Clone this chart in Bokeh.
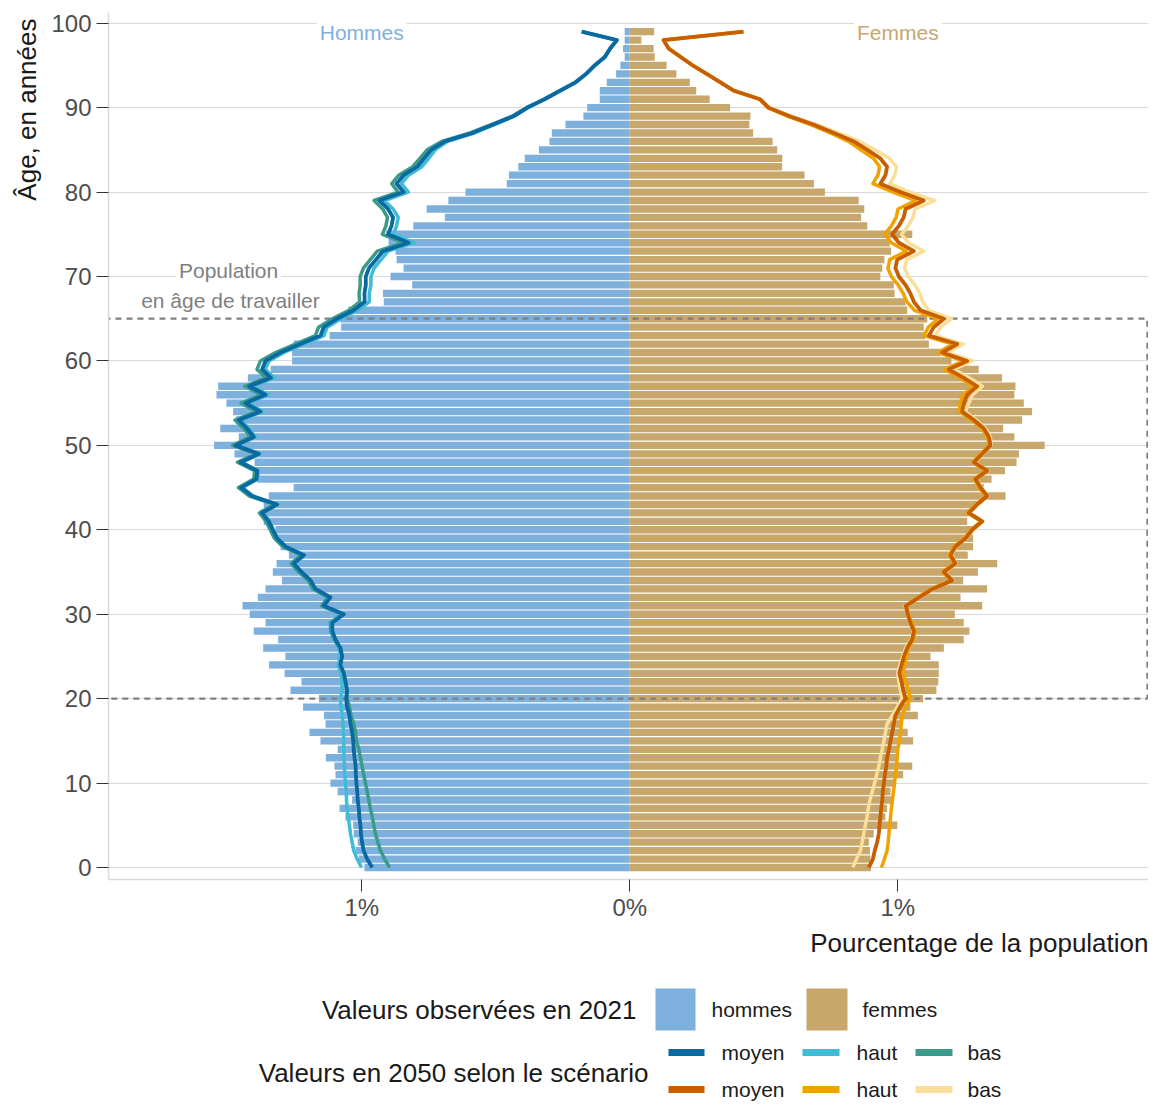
from bokeh.plotting import figure
from bokeh.models import (ColumnDataSource, Range1d, FixedTicker, Label, Title,
                          CustomJSTickFormatter)
from bokeh.layouts import column
from bokeh.embed import file_html
from bokeh.resources import INLINE
from bokeh.core.properties import value

FONT = "Liberation Sans"

ages = list(range(100))

hommes_2021 = [
    0.990, 1.011, 1.023, 1.015, 1.030, 1.032, 1.061, 1.083, 1.036, 1.090,
    1.117, 1.098, 1.102, 1.134, 1.090, 1.154, 1.195, 1.135, 1.141, 1.219,
    1.160, 1.266, 1.225, 1.288, 1.346, 1.285, 1.368, 1.312, 1.403, 1.359,
    1.418, 1.445, 1.388, 1.359, 1.298, 1.332, 1.318, 1.272, 1.303, 1.322,
    1.322, 1.366, 1.378, 1.366, 1.347, 1.254, 1.390, 1.400, 1.400, 1.475,
    1.551, 1.459, 1.528, 1.470, 1.480, 1.505, 1.542, 1.536, 1.425, 1.340,
    1.260, 1.260, 1.254, 1.120, 1.077, 1.080, 1.050, 0.918, 0.921, 0.812,
    0.893, 0.844, 0.870, 0.874, 0.900, 0.909, 0.808, 0.690, 0.758, 0.677,
    0.613, 0.459, 0.451, 0.416, 0.392, 0.339, 0.300, 0.291, 0.240, 0.173,
    0.159, 0.112, 0.112, 0.086, 0.051, 0.035, 0.019, 0.025, 0.019, 0.019,
]

femmes_2021 = [
    0.900, 0.898, 0.896, 0.892, 0.910, 0.998, 0.954, 0.960, 0.979, 0.973,
    0.991, 1.020, 1.054, 0.998, 0.998, 1.057, 1.037, 1.010, 1.075, 1.047,
    1.094, 1.144, 1.151, 1.153, 1.153, 1.122, 1.172, 1.246, 1.267, 1.246,
    1.213, 1.315, 1.234, 1.333, 1.244, 1.299, 1.371, 1.261, 1.281, 1.281,
    1.281, 1.259, 1.265, 1.296, 1.402, 1.321, 1.350, 1.400, 1.443, 1.452,
    1.548, 1.435, 1.393, 1.464, 1.501, 1.470, 1.435, 1.439, 1.389, 1.302,
    1.200, 1.160, 1.116, 1.103, 1.097, 1.110, 1.035, 1.029, 0.988, 0.985,
    0.935, 0.942, 0.950, 0.975, 0.970, 1.054, 0.886, 0.863, 0.875, 0.854,
    0.728, 0.687, 0.652, 0.568, 0.569, 0.550, 0.533, 0.460, 0.446, 0.450,
    0.374, 0.298, 0.248, 0.224, 0.174, 0.137, 0.093, 0.089, 0.043, 0.091,
]

hommes_2050_moyen = [
    0.961, 0.980, 0.993, 0.999, 1.003, 1.005, 1.009, 1.011, 1.015, 1.017,
    1.020, 1.022, 1.023, 1.027, 1.030, 1.032, 1.036, 1.042, 1.046, 1.055,
    1.058, 1.055, 1.061, 1.067, 1.080, 1.073, 1.080, 1.098, 1.110, 1.110,
    1.067, 1.142, 1.117, 1.173, 1.191, 1.225, 1.254, 1.216, 1.284, 1.316,
    1.332, 1.347, 1.372, 1.316, 1.409, 1.450, 1.393, 1.390, 1.453, 1.384,
    1.471, 1.403, 1.428, 1.459, 1.378, 1.434, 1.359, 1.420, 1.339, 1.372,
    1.359, 1.303, 1.229, 1.154, 1.142, 1.092, 1.030, 0.989, 0.990, 0.985,
    0.985, 0.973, 0.947, 0.921, 0.825, 0.902, 0.889, 0.883, 0.902, 0.934,
    0.844, 0.870, 0.844, 0.793, 0.767, 0.741, 0.690, 0.587, 0.510, 0.433,
    0.382, 0.318, 0.260, 0.202, 0.163, 0.131, 0.093, 0.073, 0.048, 0.179,
]

hommes_2050_haut = [
    1.001, 1.017, 1.030, 1.036, 1.042, 1.046, 1.051, 1.055, 1.057, 1.058,
    1.061, 1.063, 1.065, 1.066, 1.067, 1.067, 1.068, 1.070, 1.073, 1.077,
    1.080, 1.073, 1.074, 1.078, 1.088, 1.080, 1.085, 1.100, 1.112, 1.112,
    1.070, 1.143, 1.118, 1.173, 1.190, 1.224, 1.252, 1.214, 1.282, 1.314,
    1.330, 1.344, 1.369, 1.313, 1.405, 1.446, 1.389, 1.386, 1.448, 1.379,
    1.465, 1.397, 1.421, 1.451, 1.370, 1.424, 1.348, 1.408, 1.327, 1.360,
    1.346, 1.290, 1.216, 1.141, 1.129, 1.078, 1.015, 0.972, 0.972, 0.966,
    0.966, 0.954, 0.928, 0.902, 0.806, 0.883, 0.870, 0.864, 0.883, 0.916,
    0.826, 0.852, 0.826, 0.776, 0.750, 0.726, 0.680, 0.580, 0.505, 0.430,
    0.380, 0.317, 0.259, 0.201, 0.162, 0.130, 0.093, 0.073, 0.048, 0.178,
]

hommes_2050_bas = [
    0.896, 0.915, 0.930, 0.940, 0.949, 0.955, 0.961, 0.968, 0.974, 0.980,
    0.986, 0.993, 0.999, 1.005, 1.011, 1.020, 1.023, 1.030, 1.040, 1.046,
    1.055, 1.055, 1.060, 1.068, 1.082, 1.076, 1.084, 1.103, 1.116, 1.117,
    1.075, 1.150, 1.126, 1.182, 1.200, 1.235, 1.264, 1.226, 1.294, 1.326,
    1.342, 1.357, 1.382, 1.326, 1.419, 1.460, 1.403, 1.400, 1.464, 1.395,
    1.482, 1.415, 1.441, 1.473, 1.393, 1.450, 1.376, 1.437, 1.357, 1.391,
    1.378, 1.322, 1.248, 1.173, 1.161, 1.110, 1.048, 1.008, 1.010, 1.006,
    1.006, 0.994, 0.968, 0.942, 0.845, 0.923, 0.910, 0.904, 0.922, 0.954,
    0.864, 0.888, 0.862, 0.810, 0.783, 0.756, 0.702, 0.596, 0.517, 0.438,
    0.386, 0.321, 0.262, 0.204, 0.164, 0.132, 0.094, 0.074, 0.049, 0.180,
]

femmes_2050_moyen = [
    0.892, 0.907, 0.914, 0.923, 0.929, 0.932, 0.935, 0.938, 0.942, 0.944,
    0.948, 0.952, 0.957, 0.960, 0.967, 0.973, 0.979, 0.985, 0.991, 1.008,
    1.029, 1.020, 1.014, 1.006, 1.014, 1.023, 1.035, 1.053, 1.060, 1.047,
    1.037, 1.030, 1.080, 1.130, 1.203, 1.172, 1.215, 1.197, 1.215, 1.253,
    1.278, 1.315, 1.265, 1.296, 1.334, 1.309, 1.290, 1.334, 1.284, 1.315,
    1.346, 1.340, 1.321, 1.284, 1.240, 1.246, 1.259, 1.296, 1.246, 1.190,
    1.259, 1.166, 1.222, 1.116, 1.134, 1.172, 1.085, 1.060, 1.047, 1.029,
    1.004, 0.991, 0.998, 1.060, 1.004, 0.979, 1.004, 1.022, 1.029, 1.097,
    1.010, 0.935, 0.954, 0.960, 0.935, 0.886, 0.836, 0.762, 0.685, 0.595,
    0.518, 0.486, 0.389, 0.338, 0.287, 0.235, 0.190, 0.145, 0.126, 0.424,
]

femmes_2050_haut = [
    0.939, 0.950, 0.960, 0.964, 0.967, 0.970, 0.973, 0.976, 0.980, 0.984,
    0.988, 0.991, 0.995, 0.998, 1.000, 1.006, 1.010, 1.013, 1.016, 1.030,
    1.047, 1.040, 1.030, 1.020, 1.026, 1.033, 1.040, 1.058, 1.065, 1.050,
    1.040, 1.030, 1.075, 1.125, 1.198, 1.167, 1.210, 1.192, 1.210, 1.248,
    1.273, 1.310, 1.260, 1.291, 1.329, 1.304, 1.285, 1.329, 1.279, 1.310,
    1.341, 1.335, 1.314, 1.276, 1.230, 1.232, 1.244, 1.281, 1.231, 1.175,
    1.244, 1.151, 1.205, 1.098, 1.114, 1.150, 1.062, 1.034, 1.020, 1.001,
    0.976, 0.963, 0.970, 1.032, 0.976, 0.951, 0.976, 0.994, 1.001, 1.067,
    0.982, 0.907, 0.926, 0.932, 0.909, 0.862, 0.816, 0.748, 0.675, 0.588,
    0.514, 0.484, 0.389, 0.338, 0.287, 0.235, 0.190, 0.145, 0.126, 0.424,
]

femmes_2050_bas = [
    0.832, 0.846, 0.861, 0.867, 0.873, 0.879, 0.885, 0.890, 0.896, 0.905,
    0.913, 0.921, 0.929, 0.935, 0.942, 0.948, 0.954, 0.960, 0.979, 0.998,
    1.016, 1.010, 1.004, 1.000, 1.008, 1.018, 1.030, 1.050, 1.058, 1.046,
    1.036, 1.028, 1.083, 1.133, 1.206, 1.175, 1.218, 1.200, 1.218, 1.256,
    1.281, 1.318, 1.268, 1.299, 1.337, 1.312, 1.293, 1.337, 1.287, 1.318,
    1.349, 1.345, 1.328, 1.293, 1.252, 1.265, 1.279, 1.316, 1.266, 1.210,
    1.279, 1.186, 1.245, 1.140, 1.160, 1.200, 1.115, 1.093, 1.082, 1.064,
    1.039, 1.026, 1.033, 1.097, 1.039, 1.014, 1.039, 1.057, 1.064, 1.137,
    1.045, 0.970, 0.989, 0.995, 0.968, 0.915, 0.858, 0.778, 0.697, 0.603,
    0.523, 0.488, 0.389, 0.338, 0.287, 0.235, 0.190, 0.145, 0.126, 0.424,
]

age_ticks = [0, 10, 20, 30, 40, 50, 60, 70, 80, 90, 100]
pct_ticks = [-1, 0, 1]
age_travail = [20, 65]

C_H_BAR = "#7eb0dd"
C_F_BAR = "#c8a76d"
C_HM, C_HH, C_HB = "#0a69a0", "#40bcd6", "#3a9b8a"
C_FM, C_FH, C_FB = "#c75f00", "#f0a300", "#fadf9b"

src = ColumnDataSource(dict(
    age=ages,
    h=[-v for v in hommes_2021],
    f=femmes_2021,
    hm=[-v for v in hommes_2050_moyen],
    hh=[-v for v in hommes_2050_haut],
    hb=[-v for v in hommes_2050_bas],
    fm=femmes_2050_moyen,
    fh=femmes_2050_haut,
    fb=femmes_2050_bas,
))

W = 1148
FL, FR = 108, W          # frame left / right in pixels
X0, X1 = -1.945, 1.9354
p = figure(width=W, height=968,
           x_range=Range1d(X0, X1), y_range=Range1d(-1.42, 101.27),
           output_backend="svg", toolbar_location=None,
           min_border_left=FL, min_border_right=0,
           min_border_top=12, min_border_bottom=89)
p.outline_line_color = None
p.background_fill_color = "white"
p.border_fill_color = "white"

p.hbar(y="age", left="h", right=0, height=0.87, fill_color=C_H_BAR,
       line_color=None, source=src)
p.hbar(y="age", left=0, right="f", height=0.87, fill_color=C_F_BAR,
       line_color=None, source=src)

# working-age box (dashed)
p.quad(left=[X0 - 1], right=[X1 - 0.004], bottom=[age_travail[0]], top=[age_travail[1]],
       fill_color=None, line_color="#808080", line_width=2.2, line_dash="6 5")

for col, c, w in [("hb", C_HB, 3.5), ("hh", C_HH, 3.5), ("hm", C_HM, 3.8),
                  ("fb", C_FB, 3.5), ("fh", C_FH, 3.5), ("fm", C_FM, 3.8)]:
    p.line(x=col, y="age", source=src, line_color=c, line_width=w,
           line_join="round")

# axes
p.xaxis.ticker = FixedTicker(ticks=pct_ticks)
p.xaxis.formatter = CustomJSTickFormatter(code="return Math.abs(tick).toFixed(0) + '%';")
p.yaxis.ticker = FixedTicker(ticks=age_ticks)
for ax in (p.xaxis[0], p.yaxis[0]):
    ax.axis_line_color = "#d9d9d9"
    ax.axis_line_width = 1.5
    ax.major_tick_line_color = "#333333"
    ax.major_tick_out = 12
    ax.major_tick_in = 0
    ax.minor_tick_line_color = None
    ax.major_label_text_font = FONT
    ax.major_label_text_font_size = "24px"
    ax.major_label_text_color = "#4d4d4d"
    ax.major_label_standoff = 5
p.xaxis.major_label_standoff = 2
p.xgrid.grid_line_color = None
p.ygrid.ticker = FixedTicker(ticks=age_ticks)
p.ygrid.grid_line_color = "#d9d9d9"
p.ygrid.grid_line_width = 1.2

p.add_layout(Title(text="Âge, en années", align="right", text_font=FONT,
                   text_font_size="26px", text_font_style="normal",
                   text_color="#1a1a1a", standoff=14, offset=6), "left")
p.add_layout(Title(text="Pourcentage de la population", align="right", text_font=FONT,
                   text_font_size="26px", text_font_style="normal",
                   text_color="#1a1a1a", standoff=4), "below")

for txt, xx, yy, col in [("Hommes", -1, 98.9, C_H_BAR), ("Femmes", 1, 98.9, C_F_BAR),
                         ("Population", -1.497, 70.7, "#808080"),
                         ("en âge de travailler", -1.49, 67.1, "#808080")]:
    p.add_layout(Label(x=xx, y=yy, text=txt, text_align="center",
                       text_baseline="middle", text_font=FONT,
                       text_font_size="21px", text_color=col,
                       background_fill_color="white", background_fill_alpha=1.0,
                       padding=3))

# legend figure (frame aligned with the main frame; data units = pixels)
LH = 135
lg = figure(width=W, height=LH, x_range=Range1d(FL, FR), y_range=Range1d(LH, 0),
            output_backend="svg", toolbar_location=None,
            min_border_left=FL, min_border_right=0, min_border_top=0, min_border_bottom=0,
            x_axis_type=None, y_axis_type=None)
lg.grid.visible = False
lg.outline_line_color = None

ROW1, ROW2 = 84, 121
lg.rect(x=[675, 826.5], y=[41, 41], width=[40, 41], height=[42, 42],
        fill_color=[C_H_BAR, C_F_BAR], line_color=None)
lg.segment(x0=[668, 802, 915, 668, 802, 915], x1=[704, 839, 952, 704, 839, 952],
           y0=[ROW1] * 3 + [ROW2] * 3, y1=[ROW1] * 3 + [ROW2] * 3,
           line_color=[C_HM, C_HH, C_HB, C_FM, C_FH, C_FB], line_width=7)
lg.text(x=[711, 862, 721, 856, 967, 721, 856, 967],
        y=[41, 41, ROW1, ROW1, ROW1, ROW2, ROW2, ROW2],
        text=["hommes", "femmes", "moyen", "haut", "bas", "moyen", "haut", "bas"],
        text_font=value(FONT), text_font_size="21px", text_color="#1a1a1a",
        text_align="left", text_baseline="middle")
lg.text(x=[636, 648], y=[41, 104],
        text=["Valeurs observées en 2021", "Valeurs en 2050 selon le scénario"],
        text_font=value(FONT), text_font_size="26px", text_color="#1a1a1a",
        text_align="right", text_baseline="middle")

layout = column(p, lg, spacing=0)
open("out.html", "w").write(file_html(layout, INLINE))
